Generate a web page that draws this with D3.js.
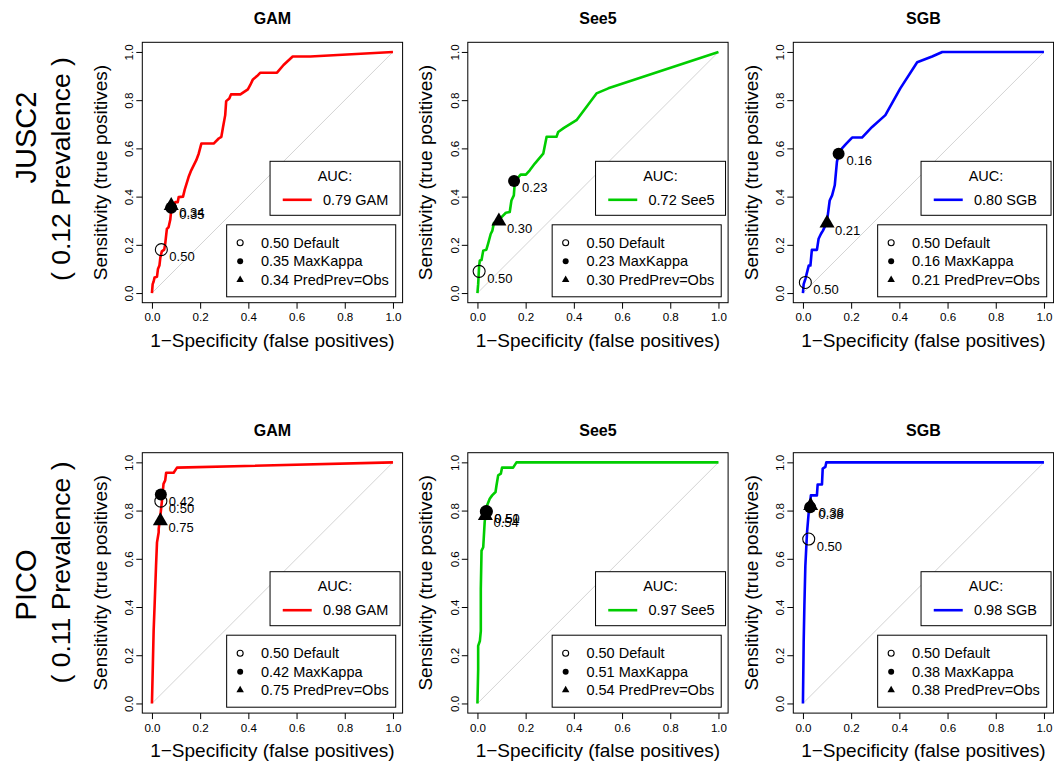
<!DOCTYPE html>
<html><head><meta charset="utf-8">
<script src="https://cdn.jsdelivr.net/npm/d3@7"></script>
<style>body{margin:0;background:#fff} svg{display:block}</style>
</head><body><svg id="chart" width="1054" height="765"></svg>
<script>
const models = ["GAM", "See5", "SGB"];
const datasets = ["JUSC2", "PICO"];
const prevalences = ["0.12", "0.11"];
const aucJUSC2 = [0.79, 0.72, 0.80];
const aucPICO = [0.98, 0.97, 0.98];
const thresholdNames = ["Default", "MaxKappa", "PredPrev=Obs"];
const thrJUSC2 = [[0.50, 0.35, 0.34], [0.50, 0.23, 0.30], [0.50, 0.16, 0.21]];
const thrPICO = [[0.50, 0.42, 0.75], [0.50, 0.51, 0.54], [0.50, 0.38, 0.38]];
const tickValues = [0, 0.2, 0.4, 0.6, 0.8, 1.0];

// ROC curves: [1-specificity, sensitivity]
const rocJUSC2GAM = [[0,0],[0.003,0.037],[0.007,0.048],[0.011,0.065],[0.021,0.068],[0.025,0.1],[0.031,0.114],[0.035,0.148],[0.041,0.173],[0.051,0.18],[0.055,0.204],[0.062,0.266],[0.069,0.273],[0.076,0.304],[0.08,0.343],[0.097,0.377],[0.107,0.377],[0.111,0.398],[0.129,0.4],[0.136,0.429],[0.152,0.481],[0.163,0.509],[0.184,0.551],[0.194,0.578],[0.205,0.62],[0.256,0.62],[0.277,0.641],[0.288,0.648],[0.295,0.689],[0.304,0.738],[0.308,0.796],[0.321,0.807],[0.328,0.824],[0.367,0.824],[0.398,0.845],[0.408,0.863],[0.419,0.886],[0.436,0.9],[0.45,0.914],[0.519,0.914],[0.546,0.946],[0.584,0.981],[0.657,0.981],[1,1]];
const rocJUSC2See5 = [[0,0],[0.003,0.037],[0.007,0.114],[0.01,0.135],[0.017,0.137],[0.024,0.176],[0.037,0.18],[0.044,0.204],[0.055,0.245],[0.062,0.259],[0.068,0.29],[0.086,0.301],[0.1,0.315],[0.118,0.333],[0.134,0.336],[0.141,0.384],[0.151,0.405],[0.155,0.46],[0.162,0.471],[0.179,0.491],[0.201,0.491],[0.217,0.509],[0.238,0.537],[0.273,0.578],[0.287,0.648],[0.328,0.648],[0.335,0.668],[0.359,0.685],[0.411,0.717],[0.494,0.828],[0.543,0.849],[1,1]];
const rocJUSC2SGB = [[0,0],[0.003,0.037],[0.01,0.058],[0.017,0.086],[0.024,0.114],[0.031,0.114],[0.037,0.179],[0.058,0.179],[0.065,0.225],[0.075,0.246],[0.083,0.259],[0.096,0.287],[0.103,0.322],[0.111,0.384],[0.121,0.405],[0.132,0.447],[0.141,0.544],[0.148,0.576],[0.162,0.6],[0.18,0.62],[0.204,0.645],[0.245,0.645],[0.287,0.689],[0.342,0.738],[0.404,0.849],[0.474,0.957],[0.536,0.981],[0.578,1],[1,1]];
const rocPICOGAM = [[0,0],[0.004,0.169],[0.007,0.301],[0.011,0.405],[0.017,0.571],[0.021,0.668],[0.028,0.71],[0.028,0.724],[0.035,0.779],[0.041,0.835],[0.048,0.911],[0.055,0.925],[0.059,0.957],[0.09,0.957],[0.104,0.978],[1,1]];
const rocPICOSee5 = [[0,0],[0.003,0.141],[0.003,0.239],[0.01,0.259],[0.014,0.3],[0.014,0.474],[0.017,0.634],[0.024,0.648],[0.03,0.752],[0.037,0.814],[0.051,0.849],[0.061,0.863],[0.075,0.877],[0.079,0.904],[0.086,0.946],[0.097,0.953],[0.102,0.978],[0.148,0.978],[0.162,1],[1,1]];
const rocPICOSGB = [[0,0],[0.003,0.252],[0.006,0.405],[0.01,0.571],[0.017,0.71],[0.024,0.793],[0.03,0.835],[0.033,0.863],[0.058,0.863],[0.061,0.908],[0.079,0.908],[0.082,0.974],[0.093,0.981],[0.097,1],[1,1]];

// threshold points: Default, MaxKappa, PredPrev=Obs  ([1-spec, sens])
const ptsJUSC2GAM = [[0.039,0.18],[0.08,0.354],[0.08,0.362]];
const ptsJUSC2See5 = [[0.007,0.09],[0.152,0.465],[0.089,0.298]];
const ptsJUSC2SGB = [[0.01,0.044],[0.148,0.578],[0.1,0.29]];
const ptsPICOGAM = [[0.037,0.839],[0.037,0.867],[0.035,0.757]];
const ptsPICOSee5 = [[0.037,0.796],[0.037,0.796],[0.033,0.779]];
const ptsPICOSGB = [[0.024,0.682],[0.03,0.814],[0.032,0.82]];

const lineColors = ["#ff0000", "#00cd00", "#0000ff"];

const FONT = '"Liberation Sans", Arial, Helvetica, sans-serif';
const svg = d3.select("#chart").attr("font-family", FONT);
const rocs = [[rocJUSC2GAM, rocJUSC2See5, rocJUSC2SGB], [rocPICOGAM, rocPICOSee5, rocPICOSGB]];
const pts = [[ptsJUSC2GAM, ptsJUSC2See5, ptsJUSC2SGB], [ptsPICOGAM, ptsPICOSee5, ptsPICOSGB]];
const aucs = [aucJUSC2, aucPICO];
const thrs = [thrJUSC2, thrPICO];

const colStep = 325.5, rowStep = 410.4, boxW = 260.3, boxH = 260.4;
const fmt2 = d3.format(".2f");

function marker(g, type, cx, cy, s) {
  if (type === 0) {
    g.append("circle").attr("cx", cx).attr("cy", cy).attr("r", s).attr("fill", "none").attr("stroke", "#000").attr("stroke-width", 1.1);
  } else if (type === 1) {
    g.append("circle").attr("cx", cx).attr("cy", cy).attr("r", s).attr("fill", "#000");
  } else {
    const r = 1.555 * s * 0.93, yc = 0.778 * s * 0.93, xc = 1.347 * s * 0.93;
    g.append("path").attr("d", `M${cx},${cy - r}L${cx + xc},${cy + yc}L${cx - xc},${cy + yc}Z`).attr("fill", "#000");
  }
}

datasets.forEach((ds, r) => {
  // row label
  const rowTop = r * rowStep;
  svg.append("text").attr("transform", `translate(26,${r === 0 ? 137.5 : 585}) rotate(-90)`)
    .attr("text-anchor", "middle").attr("dominant-baseline", "central").attr("font-size", 29).text(ds);
  svg.append("text").attr("transform", `translate(61,${r === 0 ? 169 : 572.5}) rotate(-90)`)
    .attr("text-anchor", "middle").attr("dominant-baseline", "central").attr("font-size", 26.5).text(`( ${prevalences[r]} Prevalence )`);

  models.forEach((m, c) => {
    const left = 142.3 + c * colStep, top = 42.3 + rowTop;
    const x = d3.scaleLinear().domain([-0.04, 1.04]).range([left, left + boxW]);
    const y = d3.scaleLinear().domain([-0.04, 1.04]).range([top + boxH, top]);
    const g = svg.append("g");

    // title
    g.append("text").attr("x", left + boxW / 2).attr("y", top - (r === 0 ? 24 : 22)).attr("text-anchor", "middle")
      .attr("dominant-baseline", "central").attr("font-size", 16).attr("font-weight", "bold").text(m);

    // diagonal
    g.append("line").attr("x1", x(0)).attr("y1", y(0)).attr("x2", x(1)).attr("y2", y(1))
      .attr("stroke", "#d3d3d3").attr("stroke-width", 1);

    // ROC curve
    g.append("path").datum(rocs[r][c])
      .attr("d", d3.line().x(d => x(d[0])).y(d => y(d[1])))
      .attr("fill", "none").attr("stroke", lineColors[c]).attr("stroke-width", 2.6).attr("stroke-linejoin", "round");

    // threshold markers
    const P = pts[r][c];
    P.forEach((p, i) => marker(g, i, x(p[0]), y(p[1]), 6));
    P.forEach((p, i) => {
      g.append("text").attr("x", x(p[0]) + 8).attr("y", y(p[1]) + 7).attr("dominant-baseline", "central")
        .attr("font-size", 13).text(fmt2(thrs[r][c][i]));
    });

    // box
    g.append("rect").attr("x", left).attr("y", top).attr("width", boxW).attr("height", boxH)
      .attr("fill", "none").attr("stroke", "#000").attr("stroke-width", 1);

    // x axis
    const xa = g.append("g").attr("transform", `translate(0,${top + boxH})`)
      .call(d3.axisBottom(x).tickValues(tickValues).tickFormat(d3.format(".1f")).tickSize(6).tickPadding(4.5));
    xa.select(".domain").remove();
    xa.attr("font-family", FONT).attr("font-size", 11.6);
    xa.selectAll("line").attr("stroke", "#000");
    xa.selectAll("text").attr("fill", "#000");

    // y axis
    const ya = g.append("g").attr("transform", `translate(${left},0)`)
      .call(d3.axisLeft(y).tickValues(tickValues).tickFormat(d3.format(".1f")).tickSize(6));
    ya.select(".domain").remove();
    ya.attr("font-family", FONT).attr("font-size", 11.6);
    ya.selectAll("line").attr("stroke", "#000");
    ya.selectAll("text").attr("fill", "#000").attr("x", null).attr("dy", null).attr("text-anchor", "middle")
      .attr("dominant-baseline", "central").attr("transform", "translate(-13.5,0) rotate(-90)");

    // axis labels
    g.append("text").attr("x", left + boxW / 2).attr("y", top + boxH + 37.5).attr("text-anchor", "middle")
      .attr("dominant-baseline", "central").attr("font-size", 19).text("1\u2212Specificity (false positives)");
    g.append("text").attr("transform", `translate(${left - 42},${top + boxH / 2}) rotate(-90)`)
      .attr("text-anchor", "middle").attr("dominant-baseline", "central").attr("font-size", 19)
      .text("Sensitivity (true positives)");

    // AUC legend
    const aL = x(0.49), aT = top + 119, aW = 130, aH = 54;
    const ag = g.append("g");
    ag.append("rect").attr("x", aL).attr("y", aT).attr("width", aW).attr("height", aH)
      .attr("fill", "#fff").attr("stroke", "#000").attr("stroke-width", 1);
    ag.append("text").attr("x", aL + aW / 2).attr("y", aT + 14.5).attr("text-anchor", "middle")
      .attr("dominant-baseline", "central").attr("font-size", 14.5).text("AUC:");
    ag.append("line").attr("x1", aL + 12.7).attr("x2", aL + 41.7).attr("y1", aT + 38.5).attr("y2", aT + 38.5)
      .attr("stroke", lineColors[c]).attr("stroke-width", 2.6);
    ag.append("text").attr("x", aL + 53).attr("y", aT + 38.5).attr("dominant-baseline", "central")
      .attr("font-size", 14.5).text(`${fmt2(aucs[r][c])} ${m}`);

    // threshold legend
    const tL = x(0.31), tT = top + 182.5, tH = 72;
    const tg = g.append("g");
    const trect = tg.append("rect").attr("x", tL).attr("y", tT).attr("height", tH)
      .attr("fill", "#fff").attr("stroke", "#000").attr("stroke-width", 1);
    let maxW = 0;
    thresholdNames.forEach((nm, i) => {
      const yy = tT + 18 + i * 18.5;
      marker(tg, i, tL + 13.5, yy, 3);
      const t = tg.append("text").attr("x", tL + 34.3).attr("y", yy).attr("dominant-baseline", "central")
        .attr("font-size", 14.5).text(`${fmt2(thrs[r][c][i])} ${nm}`);
      maxW = Math.max(maxW, t.node().getComputedTextLength());
    });
    trect.attr("width", 34.3 + maxW + 7);
  });
});
</script>
</body></html>
